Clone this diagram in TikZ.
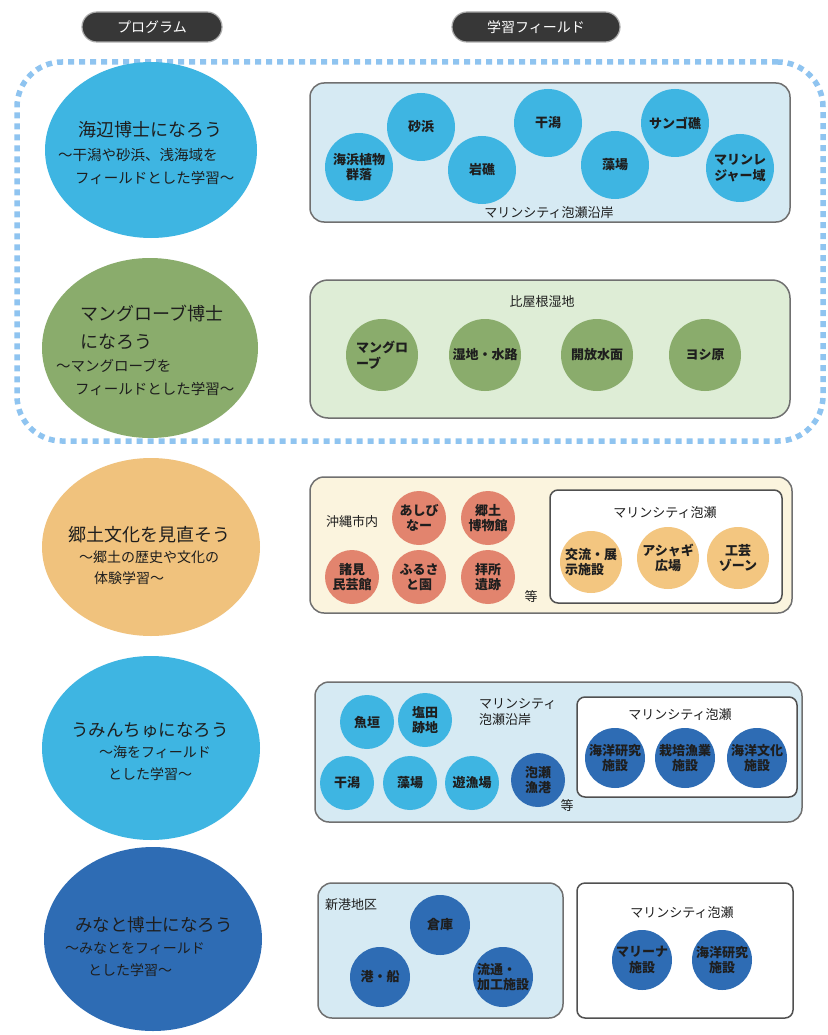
\documentclass[tikz,border=0pt]{standalone}
\usepackage{fontspec}
\setmainfont{Noto Sans CJK JP}
\usetikzlibrary{shapes.geometric}
\definecolor{skyc}{RGB}{62,181,226}
\definecolor{greenc}{RGB}{138,172,108}
\definecolor{tanc}{RGB}{240,194,125}
\definecolor{navyc}{RGB}{46,108,180}
\definecolor{salmonc}{RGB}{226,132,110}
\definecolor{orangec}{RGB}{243,198,128}
\definecolor{bluebox}{RGB}{214,234,243}
\definecolor{greenbox}{RGB}{222,237,214}
\definecolor{creambox}{RGB}{251,244,222}
\definecolor{boxb}{RGB}{112,112,112}
\definecolor{wboxb}{RGB}{80,80,80}
\definecolor{pillc}{RGB}{55,55,55}
\definecolor{pillb}{RGB}{170,170,170}
\definecolor{dotc}{RGB}{143,196,240}
\definecolor{txtc}{RGB}{30,30,30}
\begin{document}
\begin{tikzpicture}[x=1pt,y=-1pt,
  pill/.style={rectangle, rounded corners=15pt, fill=pillc, draw=pillb, line width=1.2pt,
    text=white, minimum height=30pt, inner sep=0pt, font=\fontsize{14}{16}\selectfont},
  prog/.style={ellipse, inner sep=0pt, draw=none},
  ttl/.style={inner sep=0pt, text=txtc, anchor=west, font=\fontsize{18}{20}\selectfont},
  sub/.style={inner sep=0pt, text=txtc, anchor=west, font=\fontsize{14.5}{16}\selectfont},
  fbox/.style={rectangle, rounded corners=14pt, draw=boxb, line width=1.5pt, inner sep=0pt},
  wbox/.style={rectangle, rounded corners=8pt, fill=white, draw=wboxb, line width=1.5pt, inner sep=0pt},
  dotnode/.style={circle, inner sep=0pt, align=center, text=txtc,
    font=\bfseries\fontsize{13}{15.5}\selectfont},
  lbl/.style={inner sep=0pt, text=txtc, align=left, font=\fontsize{13}{15.5}\selectfont},
  dotframe/.style={rectangle, rounded corners=45pt, draw=dotc, line width=5.5pt,
    dash pattern=on 6pt off 5pt, inner sep=0pt}
]
\useasboundingbox (0,0) rectangle (827,1035);
\fill[white] (0,0) rectangle (827,1035);

% headers
\node[pill, minimum width=140pt] (hprog) at (152,27) {プログラム};
\node[pill, minimum width=168pt] (hfield) at (536,27) {学習フィールド};

% dotted frame
\node[dotframe, minimum width=806pt, minimum height=379pt] (frame) at (420,251.5) {};

% ===== Row 1 =====
\node[prog, fill=skyc, minimum width=212pt, minimum height=176pt] (p1) at (151,150) {};
\node[ttl] (p1a) at (78,130) {海辺博士になろう};
\node[sub] (p1b) at (58,155) {～干潟や砂浜、浅海域を};
\node[sub] (p1c) at (75,178) {フィールドとした学習～};

\node[fbox, fill=bluebox, minimum width=480pt, minimum height=139pt] (f1) at (550,152.5) {};
\node[dotnode, fill=skyc, minimum size=68pt] (c11) at (359,167) {海浜植物\\群落};
\node[dotnode, fill=skyc, minimum size=68pt] (c12) at (421,127) {砂浜};
\node[dotnode, fill=skyc, minimum size=68pt] (c13) at (482,170) {岩礁};
\node[dotnode, fill=skyc, minimum size=68pt] (c14) at (548,123) {干潟};
\node[dotnode, fill=skyc, minimum size=68pt] (c15) at (615,165) {藻場};
\node[dotnode, fill=skyc, minimum size=68pt] (c16) at (675,123) {サンゴ礁};
\node[dotnode, fill=skyc, minimum size=68pt] (c17) at (740,168) {マリンレ\\ジャー域};
\node[lbl] (f1l) at (549,213) {マリンシティ泡瀬沿岸};

% ===== Row 2 =====
\node[prog, fill=greenc, minimum width=216pt, minimum height=180pt] (p2) at (150,348) {};
\node[ttl] (p2a) at (80,314) {マングローブ博士};
\node[ttl] (p2b) at (80,342) {になろう};
\node[sub] (p2c) at (56,366) {～マングローブを};
\node[sub] (p2d) at (75,389) {フィールドとした学習～};

\node[fbox, fill=greenbox, rounded corners=18pt, minimum width=480pt, minimum height=138pt] (f2) at (550,349) {};
\node[lbl] (f2l) at (542,302) {比屋根湿地};
\node[dotnode, fill=greenc, minimum size=72pt, align=left] (c21) at (382,355) {マングロ\\ーブ};
\node[dotnode, fill=greenc, minimum size=72pt] (c22) at (485,355) {湿地・水路};
\node[dotnode, fill=greenc, minimum size=72pt] (c23) at (597,355) {開放水面};
\node[dotnode, fill=greenc, minimum size=72pt] (c24) at (705,355) {ヨシ原};

% ===== Row 3 =====
\node[prog, fill=tanc, minimum width=218pt, minimum height=178pt] (p3) at (151,547) {};
\node[ttl] (p3a) at (68,535) {郷土文化を見直そう};
\node[sub, font=\fontsize{14}{16}\selectfont] (p3b) at (79,557) {～郷土の歴史や文化の};
\node[sub, font=\fontsize{14}{16}\selectfont] (p3c) at (94,578) {体験学習～};

\node[fbox, fill=creambox, minimum width=482pt, minimum height=136pt] (f3) at (551,545) {};
\node[lbl] (f3l) at (352,522) {沖縄市内};
\node[dotnode, fill=salmonc, minimum size=54pt] (c31) at (419,518) {あしび\\なー};
\node[dotnode, fill=salmonc, minimum size=54pt] (c32) at (488,518) {郷土\\博物館};
\node[dotnode, fill=salmonc, minimum size=54pt] (c33) at (352,577) {諸見\\民芸館};
\node[dotnode, fill=salmonc, minimum size=54pt] (c34) at (419,577) {ふるさ\\と園};
\node[dotnode, fill=salmonc, minimum size=54pt] (c35) at (488,577) {拝所\\遺跡};
\node[lbl] (f3e) at (531,597) {等};
\node[wbox, minimum width=232pt, minimum height=113pt] (w3) at (666,546.5) {};
\node[lbl] (w3l) at (665,513) {マリンシティ泡瀬};
\node[dotnode, fill=orangec, minimum size=62pt, align=left] (c36) at (591,562) {交流・展\\示施設};
\node[dotnode, fill=orangec, minimum size=62pt] (c37) at (668,558) {アシャギ\\広場};
\node[dotnode, fill=orangec, minimum size=62pt] (c38) at (738,558) {工芸\\ゾーン};

% ===== Row 4 =====
\node[prog, fill=skyc, minimum width=218pt, minimum height=184pt] (p4) at (151,748) {};
\node[ttl, anchor=center, font=\fontsize{17.5}{20}\selectfont] (p4a) at (150,730) {うみんちゅになろう};
\node[sub, anchor=center, font=\fontsize{14}{16}\selectfont] (p4b) at (155,752) {～海をフィールド};
\node[sub, anchor=center, font=\fontsize{14}{16}\selectfont] (p4c) at (150,774) {とした学習～};

\node[fbox, fill=bluebox, minimum width=487pt, minimum height=140pt] (f4) at (558.5,752) {};
\node[dotnode, fill=skyc, minimum size=54pt] (c41) at (367,722) {魚垣};
\node[dotnode, fill=skyc, minimum size=54pt] (c42) at (425,720) {塩田\\跡地};
\node[dotnode, fill=skyc, minimum size=54pt] (c43) at (347,783) {干潟};
\node[dotnode, fill=skyc, minimum size=54pt] (c44) at (410,783) {藻場};
\node[dotnode, fill=skyc, minimum size=54pt] (c45) at (472,783) {遊漁場};
\node[dotnode, fill=navyc, minimum size=54pt] (c46) at (538,780) {泡瀬\\漁港};
\node[lbl] (f4e) at (567,806) {等};
\node[lbl, anchor=west] (f4l) at (479,712) {マリンシティ\\泡瀬沿岸};
\node[wbox, minimum width=220pt, minimum height=100pt] (w4) at (687,747) {};
\node[lbl] (w4l) at (680,715) {マリンシティ泡瀬};
\node[dotnode, fill=navyc, minimum size=60pt] (c47) at (615,758) {海洋研究\\施設};
\node[dotnode, fill=navyc, minimum size=60pt] (c48) at (685,758) {栽培漁業\\施設};
\node[dotnode, fill=navyc, minimum size=60pt] (c49) at (757,758) {海洋文化\\施設};

% ===== Row 5 =====
\node[prog, fill=navyc, minimum width=218pt, minimum height=184pt] (p5) at (153,939) {};
\node[ttl, font=\fontsize{17.5}{20}\selectfont] (p5a) at (75,925) {みなと博士になろう};
\node[sub, font=\fontsize{14}{16}\selectfont] (p5b) at (65,948) {～みなとをフィールド};
\node[sub, font=\fontsize{14}{16}\selectfont] (p5c) at (88,970) {とした学習～};

\node[fbox, fill=bluebox, minimum width=245pt, minimum height=135pt] (f5) at (440.5,950.5) {};
\node[lbl, anchor=west] (f5l) at (325,905) {新港地区};
\node[dotnode, fill=navyc, minimum size=60pt] (c51) at (440,925) {倉庫};
\node[dotnode, fill=navyc, minimum size=60pt] (c52) at (380,977) {港・船};
\node[dotnode, fill=navyc, minimum size=60pt, align=left] (c53) at (503,977) {流通・\\加工施設};
\node[wbox, minimum width=216pt, minimum height=135pt] (w5) at (685,950.5) {};
\node[lbl] (w5l) at (682,913) {マリンシティ泡瀬};
\node[dotnode, fill=navyc, minimum size=60pt] (c54) at (642,960) {マリーナ\\施設};
\node[dotnode, fill=navyc, minimum size=60pt] (c55) at (722,960) {海洋研究\\施設};
\end{tikzpicture}
\end{document}
